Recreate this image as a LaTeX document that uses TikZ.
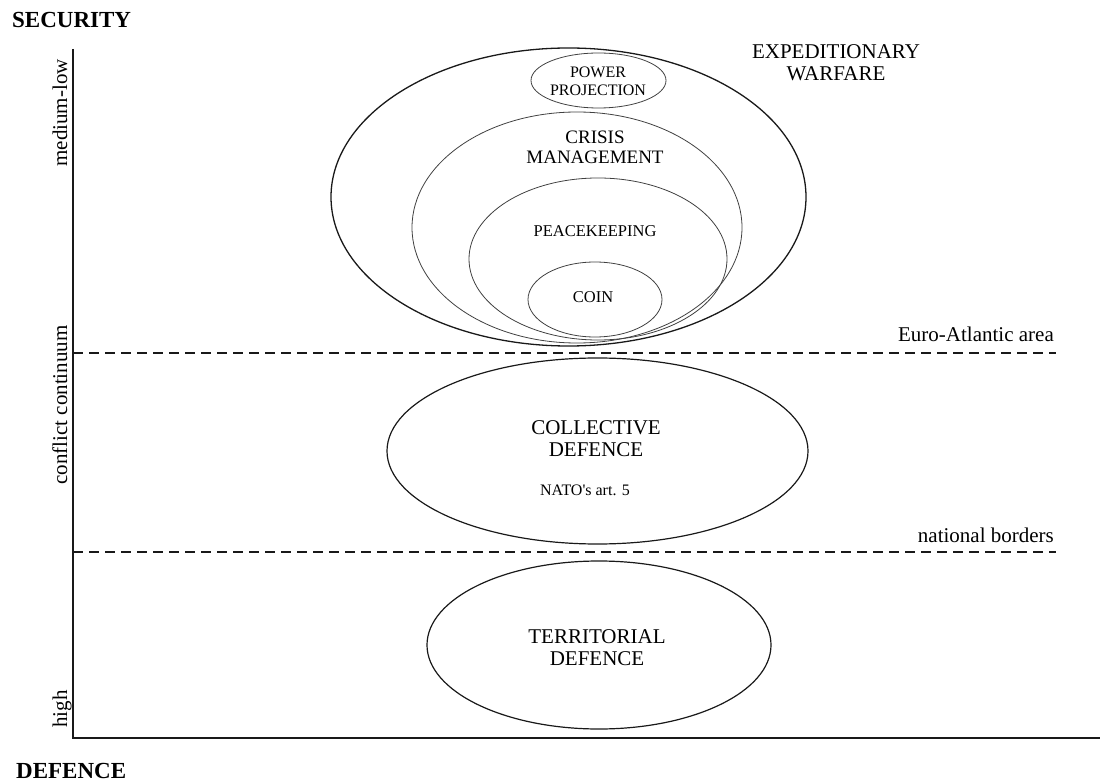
\documentclass[tikz,border=0pt]{standalone}
\usepackage{fontspec}
\setmainfont{Liberation Serif}
\usetikzlibrary{shapes.geometric}

\begin{document}
\begin{tikzpicture}[x=1pt,y=-1pt,
  outerring/.style={draw=black!90, line width=1.3pt, ellipse, inner sep=0pt},
  innerring/.style={draw=black!75, line width=0.8pt, ellipse, inner sep=0pt},
  zonering/.style={draw=black!90, line width=1.2pt, ellipse, inner sep=0pt},
  axisline/.style={draw=black!90, line width=2pt},
  boundary/.style={draw=black!90, line width=1.6pt, dash pattern=on 10pt off 6pt},
  big/.style={font=\fontsize{21}{22}\selectfont, align=center, inner sep=0pt},
  mid/.style={font=\fontsize{19}{20}\selectfont, align=center, inner sep=0pt},
  small/.style={font=\fontsize{16.5}{18}\selectfont, align=center, inner sep=0pt},
  axislabel/.style={font=\fontsize{21}{22}\selectfont, rotate=90, anchor=base, inner sep=0pt},
  title/.style={font=\fontsize{23}{24}\selectfont\bfseries, anchor=base west, inner sep=0pt}
]
\useasboundingbox (0,0) rectangle (1100,783);

% axes
\coordinate (origin) at (72.5,738);
\coordinate (ytop) at (72.5,49);
\coordinate (xend) at (1100,738);
\draw[axisline] (ytop) -- (origin) -- (xend);

% axis titles
\node[title] (sec) at (12,28) {SECURITY};
\node[title] (def) at (16,778) {DEFENCE};
\node[axislabel] (lowlab) at (67,113) {medium-low};
\node[axislabel] (midlab) at (67,405) {conflict continuum};
\node[axislabel] (highlab) at (67,709) {high};

% boundaries
\coordinate (eaL) at (73,353);
\coordinate (eaR) at (1056,353);
\coordinate (nbL) at (73,552);
\coordinate (nbR) at (1056,552);
\draw[boundary] (eaL) -- (eaR);
\draw[boundary] (nbL) -- (nbR);
\node[big, anchor=base east] (ealab) at (1054,342) {Euro-Atlantic area};
\node[big, anchor=base east] (nblab) at (1054,542) {national borders};

% expeditionary warfare
\node[outerring, minimum width=475pt, minimum height=298pt] (exp) at (568.5,197) {};
\node[big] (explab) at (836,63) {EXPEDITIONARY\\WARFARE};
\node[innerring, minimum width=135pt, minimum height=55pt] (pp) at (598.5,80.5) {};
\node[small, font=\fontsize{16}{18}\selectfont] (pplab) at (598,81) {POWER\\PROJECTION};
\node[innerring, minimum width=330pt, minimum height=231pt] (cm) at (577,227.5) {};
\node[mid] (cmlab) at (595,147) {CRISIS\\MANAGEMENT};
\node[innerring, minimum width=258pt, minimum height=162pt] (pk) at (598,259) {};
\node[small] (pklab) at (595,231) {PEACEKEEPING};
\node[innerring, minimum width=134pt, minimum height=75pt] (coin) at (595,299.5) {};
\node[small] (coinlab) at (593,297) {COIN};

% collective defence
\node[zonering, minimum width=421pt, minimum height=186pt] (cd) at (597.5,451) {};
\node[big] (cdlab) at (596,438.5) {COLLECTIVE\\DEFENCE};
\node[small, font=\fontsize{16}{18}\selectfont] (nato) at (585,490) {NATO\textquotesingle s art. 5};

% territorial defence
\node[zonering, minimum width=344pt, minimum height=168pt] (td) at (599,645) {};
\node[big] (tdlab) at (597,647.5) {TERRITORIAL\\DEFENCE};
\end{tikzpicture}
\end{document}
